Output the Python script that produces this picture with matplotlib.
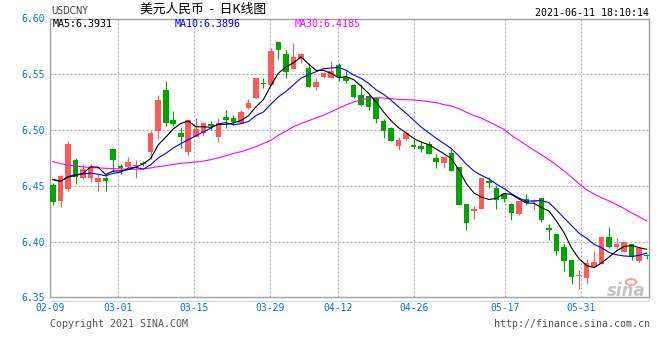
import matplotlib
matplotlib.use("Agg")
import matplotlib.pyplot as plt
import numpy as np
from matplotlib.patches import Rectangle, Circle

# ---------------- data ----------------
dates = ["02-09", "02-10", "02-18", "02-19", "02-22", "02-23", "02-24", "02-25", "02-26",
         "03-01", "03-02", "03-03", "03-04", "03-05", "03-08", "03-09", "03-10", "03-11", "03-12",
         "03-15", "03-16", "03-17", "03-18", "03-19", "03-22", "03-23", "03-24", "03-25", "03-26",
         "03-29", "03-30", "03-31", "04-01", "04-02", "04-06", "04-07", "04-08", "04-09",
         "04-12", "04-13", "04-14", "04-15", "04-16", "04-19", "04-20", "04-21", "04-22", "04-23",
         "04-26", "04-27", "04-28", "04-29", "04-30", "05-06", "05-07",
         "05-10", "05-11", "05-12", "05-13", "05-14",
         "05-17", "05-18", "05-19", "05-20", "05-21", "05-24", "05-25", "05-26", "05-27", "05-28",
         "05-31", "06-01", "06-02", "06-03", "06-04", "06-07", "06-08", "06-09", "06-10", "06-11"]

opens = [6.4509, 6.4361, 6.4467, 6.4731, 6.4574, 6.4568, 6.4538, 6.4571, 6.4828, 6.4680,
         6.4672, 6.4675, 6.4701, 6.4805, 6.4994, 6.5361, 6.5086, 6.4970, 6.4805, 6.4941,
         6.4970, 6.5056, 6.4938, 6.5121, 6.5104, 6.5065, 6.5195, 6.5290, 6.5423, 6.5405,
         6.5787, 6.5680, 6.5547, 6.5633, 6.5556, 6.5390, 6.5479, 6.5464, 6.5583, 6.5479,
         6.5405, 6.5317, 6.5308, 6.5284, 6.5077, 6.5015, 6.4858, 6.4917, 6.4864, 6.4858,
         6.4873, 6.4749, 6.4704, 6.4793, 6.4669, 6.4340, 6.4272, 6.4290, 6.4547, 6.4482,
         6.4423, 6.4340, 6.4243, 6.4379, 6.4355, 6.4393, 6.4118, 6.4065, 6.3953, 6.3834,
         6.3689, 6.3675, 6.3769, 6.3799, 6.4044, 6.3953, 6.3908, 6.3982, 6.3822, 6.3879]
highs = [6.4527, 6.4600, 6.4899, 6.4751, 6.4698, 6.4695, 6.4609, 6.4592, 6.4828, 6.4698,
         6.4754, 6.4734, 6.4725, 6.4994, 6.5314, 6.5441, 6.5175, 6.5030, 6.5095, 6.5107,
         6.5071, 6.5083, 6.5112, 6.5183, 6.5136, 6.5183, 6.5278, 6.5467, 6.5467, 6.5737,
         6.5799, 6.5716, 6.5781, 6.5692, 6.5598, 6.5464, 6.5521, 6.5621, 6.5604, 6.5533,
         6.5414, 6.5414, 6.5331, 6.5296, 6.5095, 6.5027, 6.4938, 6.4991, 6.4923, 6.4902,
         6.4902, 6.4784, 6.4757, 6.4834, 6.4669, 6.4340, 6.4320, 6.4571, 6.4577, 6.4503,
         6.4438, 6.4349, 6.4367, 6.4426, 6.4379, 6.4393, 6.4154, 6.4071, 6.3976, 6.3834,
         6.3746, 6.3846, 6.3911, 6.4038, 6.4127, 6.4030, 6.4000, 6.3982, 6.3941, 6.3888]
lows = [6.4325, 6.4308, 6.4456, 6.4512, 6.4562, 6.4538, 6.4456, 6.4456, 6.4621, 6.4604,
        6.4657, 6.4568, 6.4680, 6.4740, 6.4923, 6.5036, 6.5036, 6.4840, 6.4769, 6.4941,
        6.4947, 6.5000, 6.4893, 6.5018, 6.5047, 6.5065, 6.5189, 6.5290, 6.5379, 6.5396,
        6.5636, 6.5462, 6.5547, 6.5598, 6.5390, 6.5361, 6.5464, 6.5464, 6.5444, 6.5426,
        6.5287, 6.5213, 6.5183, 6.5059, 6.4929, 6.4899, 6.4822, 6.4899, 6.4828, 6.4805,
        6.4787, 6.4657, 6.4657, 6.4636, 6.4325, 6.4104, 6.4201, 6.4290, 6.4479, 6.4296,
        6.4355, 6.4192, 6.4237, 6.4325, 6.4281, 6.4172, 6.4015, 6.3876, 6.3740, 6.3621,
        6.3571, 6.3615, 6.3769, 6.3799, 6.3941, 6.3941, 6.3905, 6.3834, 6.3817, 6.3846]
closes = [6.4355, 6.4592, 6.4876, 6.4577, 6.4651, 6.4657, 6.4574, 6.4544, 6.4734, 6.4657,
          6.4713, 6.4686, 6.4692, 6.4976, 6.5266, 6.5059, 6.5056, 6.4938, 6.5086, 6.5006,
          6.5059, 6.5033, 6.5065, 6.5089, 6.5071, 6.5166, 6.5246, 6.5467, 6.5414, 6.5707,
          6.5716, 6.5521, 6.5657, 6.5678, 6.5390, 6.5432, 6.5515, 6.5530, 6.5479, 6.5441,
          6.5293, 6.5222, 6.5204, 6.5095, 6.4991, 6.4902, 6.4908, 6.4970, 6.4849, 6.4828,
          6.4787, 6.4716, 6.4757, 6.4636, 6.4325, 6.4166, 6.4296, 6.4571, 6.4527, 6.4376,
          6.4385, 6.4254, 6.4367, 6.4346, 6.4364, 6.4189, 6.4107, 6.3911, 6.3828, 6.3680,
          6.3701, 6.3805, 6.3817, 6.4038, 6.3947, 6.3976, 6.4000, 6.3864, 6.3941, 6.3870]
# closes before 02-09 (estimated from where the MA5 / MA10 lines start)
prior_closes = [6.4772, 6.4426, 6.4397, 6.4591, 6.4594, 6.4667, 6.4696, 6.4502, 6.4560]
# MA30 line
ma30 = [6.4716, 6.4698, 6.4686, 6.4678, 6.4669, 6.4663, 6.4660, 6.4657, 6.4654, 6.4651,
        6.4648, 6.4648, 6.4651, 6.4660, 6.4672, 6.4680, 6.4692, 6.4701, 6.4707, 6.4713,
        6.4722, 6.4734, 6.4751, 6.4769, 6.4790, 6.4805, 6.4828, 6.4852, 6.4879, 6.4908,
        6.4953, 6.4991, 6.5030, 6.5059, 6.5083, 6.5109, 6.5133, 6.5163, 6.5195, 6.5225,
        6.5251, 6.5272, 6.5284, 6.5290, 6.5287, 6.5281, 6.5275, 6.5272, 6.5269, 6.5263,
        6.5254, 6.5246, 6.5228, 6.5216, 6.5192, 6.5160, 6.5130, 6.5107, 6.5074, 6.5041,
        6.5006, 6.4953, 6.4908, 6.4864, 6.4820, 6.4778, 6.4734, 6.4686, 6.4633, 6.4577,
        6.4518, 6.4464, 6.4426, 6.4393, 6.4364, 6.4331, 6.4296, 6.4257, 6.4222, 6.4185]

tick_dates = ["02-09", "03-01", "03-15", "03-29", "04-12", "04-26", "05-17", "05-31"]
y_ticks = [6.35, 6.40, 6.45, 6.50, 6.55, 6.60]
y_grid = [6.40, 6.45, 6.50, 6.55]

title = "美元人民币  -  日K线图"
symbol = "USDCNY"
stamp = "2021-06-11 18:10:14"
legend_items = [("MA5:6.3931", "#000000"), ("MA10:6.3896", "#0000ff"), ("MA30:6.4185", "#ff00ff")]

# ---------------- figure ----------------
W, H = 660, 360
fig = plt.figure(figsize=(W / 100, H / 100), dpi=100)
fig.patch.set_facecolor("white")
L, R, T, B = 50, 649.3, 18.5, 297.3
ax = fig.add_axes([L / W, 1 - B / H, (R - L) / W, (B - T) / H])

def fx(px):
    return px / W

def fy(py):
    return 1 - py / H

N = len(dates)
idx = np.arange(N)
allc = np.array(prior_closes + closes)
P = len(prior_closes)

def moving_average(n):
    return np.array([allc[i + P - n + 1:i + P + 1].mean() for i in range(N)])

ma5 = moving_average(5)
ma10 = moving_average(10)

RED = "#ff5a5a"
GREEN = "#00a600"
MONO = "DejaVu Sans Mono"

# grid
grid_style = dict(color="#a8a8a8", lw=0.72, linestyle=(0, (2, 2)), zorder=0)
for g in y_grid:
    ax.axhline(g, **grid_style)
tick_idx = [dates.index(d) for d in tick_dates]
for ti in tick_idx[1:]:
    f = ti / (N - 1)
    ax.plot([f, f], [0, 1], transform=ax.transAxes, **grid_style)

# candles
bw = 0.74
min_h = 0.0009
for i in range(N):
    o, h, l, c = opens[i], highs[i], lows[i], closes[i]
    col = RED if c >= o else GREEN
    ax.vlines(i, l, h, color=col, lw=0.8, zorder=2)
    lo = min(o, c)
    hh = max(abs(c - o), min_h)
    ax.add_patch(Rectangle((i - bw / 2, lo), bw, hh, facecolor=col, edgecolor="none", zorder=3))

# moving averages
ax.plot(idx, ma30, color="#ff00ff", lw=0.8, zorder=4)
ax.plot(idx, ma10, color="#0000ff", lw=0.8, zorder=5)
ax.plot(idx, ma5, color="#000000", lw=0.8, zorder=6)

ax.set_xlim(-0.4, 79.35)
ax.set_ylim(6.35, 6.60)
for s in ax.spines.values():
    s.set_color("#a0a0a0")
    s.set_linewidth(1.0)

ax.set_xticks([])
ax.set_yticks(y_ticks)
ax.set_yticklabels([f"{v:.2f}" for v in y_ticks], fontfamily=MONO, fontsize=7, color="#0a78c8")
ax.tick_params(axis="y", length=0, pad=4)

# x labels
for ti, lab in zip(tick_idx, tick_dates):
    f = ti / (N - 1)
    ax.text(f, -(308 - B) / (B - T), lab, transform=ax.transAxes, ha="center", va="center",
            fontfamily=MONO, fontsize=7, color="#0a78c8")

# legend row
lx = [53, 175, 295]
for (txt, col), x in zip(legend_items, lx):
    fig.text(fx(x), fy(24), txt, ha="left", va="center", fontfamily=MONO, fontsize=7.2, color=col)

# header texts
fig.text(fx(51), fy(11), symbol, ha="left", va="center", fontsize=7,
         family="DejaVu Sans", fontstretch="condensed", color="#333333")
fig.text(fx(140), fy(9.5), title, ha="left", va="center", fontsize=9.2,
         family=["Noto Sans CJK SC", "DejaVu Sans"], color="#000000")
fig.text(fx(649), fy(12.5), stamp, ha="right", va="center", fontfamily=MONO, fontsize=7.2,
         color="#000000")

# dotted line below axis
fig.add_artist(plt.Line2D([fx(50), fx(650)], [fy(300.5), fy(300.5)], color="#b0b0b0",
                          lw=0.72, linestyle=(0, (1, 1))))

# footer
fig.text(fx(50), fy(324), "Copyright 2021 SINA.COM", ha="left", va="center",
         fontfamily=MONO, fontsize=7.2, color="#555555")
fig.text(fx(650), fy(324), "http://finance.sina.com.cn", ha="right", va="center",
         fontfamily=MONO, fontsize=7.2, color="#555555")

# sina watermark
fig.text(fx(626), fy(291), "sina", ha="center", va="center", fontsize=12, fontweight="bold",
         fontstyle="italic", color="#c4c4c4", family="DejaVu Sans")
fig.add_artist(Circle((fx(631), fy(282)), 0.008, transform=fig.transFigure, facecolor="none",
                      edgecolor="#f3a3a3", lw=1.5))

fig.savefig("out.png", dpi=100, facecolor="white")
